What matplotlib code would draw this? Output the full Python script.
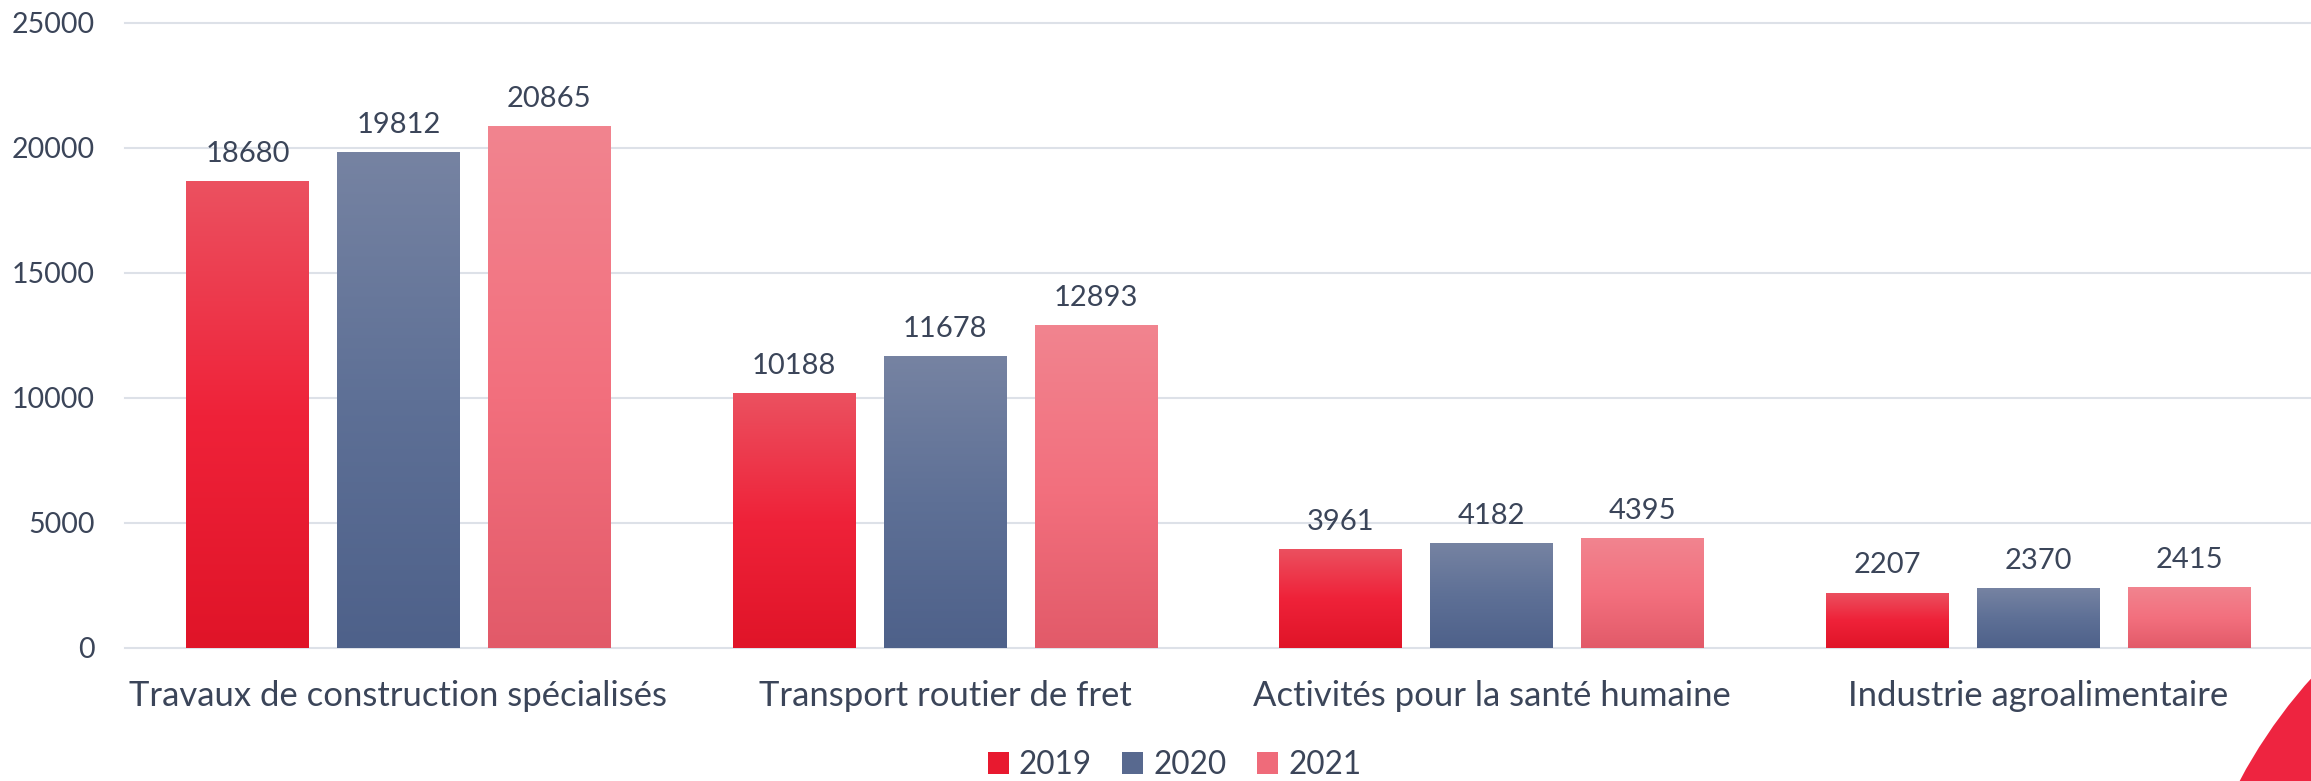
import matplotlib
matplotlib.use("Agg")
import matplotlib.pyplot as plt
import numpy as np
from matplotlib.colors import LinearSegmentedColormap
from matplotlib.patches import Rectangle, Ellipse

categories = ["Travaux de construction spécialisés", "Transport routier de fret",
              "Activités pour la santé humaine", "Industrie agroalimentaire"]
years = ["2019", "2020", "2021"]
v2019 = [18680, 10188, 3961, 2207]
v2020 = [19812, 11678, 4182, 2370]
v2021 = [20865, 12893, 4395, 2415]
yticks = [0, 5000, 10000, 15000, 20000, 25000]

series = [v2019, v2020, v2021]
grads = [
    ["#E01428", "#EF2239", "#EB5160"],   # bottom -> top
    ["#4E618A", "#5E7096", "#7683A2"],
    ["#E25A69", "#F3707E", "#F1848F"],
]
solid = ["#E8192F", "#58698F", "#EF6B7A"]
text_color = "#3B4559"
font = "Lato"

W, H = 2311, 781
fig = plt.figure(figsize=(W / 100, H / 100), dpi=100)
fig.patch.set_facecolor("white")

# decorative red circle at bottom-right corner
r = 518
circ = Ellipse((2697 / W, (H - 1024) / H), 2 * r / W, 2 * r / H, transform=fig.transFigure,
               facecolor="#EE2440", edgecolor="none", zorder=0)
fig.patches.append(circ)

left, right, y0, ytop = 125, 2312, 647.7, 22.7
ax = fig.add_axes([left / W, (H - y0) / H, (right - left) / W, (y0 - ytop) / H])
ax.set_facecolor("none")

x = np.arange(len(categories))
bw = 0.2249
step = 0.276
for i, (vals, g) in enumerate(zip(series, grads)):
    cmap = LinearSegmentedColormap.from_list(f"g{i}", g)
    bars = ax.bar(x + (i - 1) * step, vals, width=bw, color="none", edgecolor="none",
                  zorder=2, label=years[i])
    for rect, v in zip(bars, vals):
        x0 = rect.get_x()
        x1 = x0 + rect.get_width()
        grad = np.linspace(0, 1, 256).reshape(-1, 1)
        im = ax.imshow(grad, cmap=cmap, extent=[x0, x1, 0, v], origin="lower",
                       aspect="auto", zorder=2, interpolation="bilinear")
        im.set_clip_path(rect)
        ax.annotate(f"{v}", (rect.get_x() + rect.get_width() / 2, v),
                    xytext=(0, 13.7), textcoords="offset points",
                    ha="center", va="baseline", fontsize=21,
                    color=text_color, family=font)

ax.set_xlim(-0.5, len(categories) - 0.5)
ax.set_ylim(0, 25000)
ax.set_yticks(yticks)
ax.set_yticklabels([str(t) for t in yticks])
ax.set_xticks(x)
ax.set_xticklabels(categories)
ax.tick_params(axis="y", length=0, pad=21.6, labelsize=20.5, labelcolor=text_color)
ax.tick_params(axis="x", length=0, pad=23, labelsize=24.9, labelcolor=text_color)
for lab in ax.get_xticklabels() + ax.get_yticklabels():
    lab.set_family(font)
for s in ax.spines.values():
    s.set_visible(False)
ax.yaxis.grid(True, color="#DDE1E8", linewidth=1.5, zorder=0)
ax.set_axisbelow(True)
for gl in ax.get_ygridlines():
    gl.set_clip_on(False)

handles = [Rectangle((0, 0), 1, 1, facecolor=c, edgecolor="none") for c in solid]
leg = fig.legend(handles, years, loc="center", bbox_to_anchor=(1174.5 / W, (H - 765) / H),
                 ncol=3, frameon=False, handlelength=0.67, handleheight=0.67,
                 handletextpad=0.32, columnspacing=0.96, borderaxespad=0, borderpad=0,
                 prop={"family": font, "size": 22.7})
for t in leg.get_texts():
    t.set_color(text_color)

fig.savefig("out.png", dpi=100, facecolor="white")
